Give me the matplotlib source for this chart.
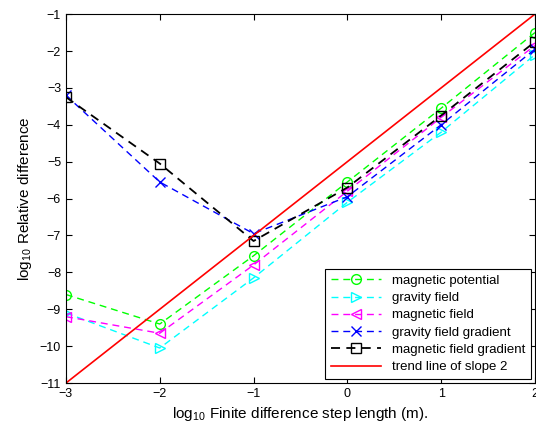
import matplotlib.pyplot as plt
import numpy as np

plt.rcParams['font.family'] = ['Liberation Sans', 'DejaVu Sans']
plt.rcParams['mathtext.fontset'] = 'custom'
plt.rcParams['mathtext.rm'] = 'Liberation Sans'
plt.rcParams['mathtext.it'] = 'Liberation Sans'
plt.rcParams['lines.dashed_pattern'] = (5, 3.5)

# log10 step length
step = [-3, -2, -1, 0, 1, 2]

# log10 relative difference per field
mag_potential = [-8.6, -9.4, -7.55, -5.55, -3.55, -1.5]
gravity_field = [-9.1, -10.05, -8.15, -6.1, -4.2, -2.1]
mag_field = [-9.2, -9.65, -7.8, -5.8, -3.8, -1.85]
gravity_gradient = [-3.2, -5.55, -6.95, -5.95, -4.0, -1.95]
mag_gradient = [-3.25, -5.05, -7.15, -5.7, -3.75, -1.75]

# trend line of slope 2
trend_x = [-3, 2]
trend_y = [-11, -1]

fig = plt.figure(figsize=(5.36, 4.28), dpi=100)
ax = fig.add_axes([0.123, 0.105, 0.875, 0.862])

ax.plot(step, mag_potential, '--o', color='#00ff00', mfc='none', ms=7, lw=1,
        label='magnetic potential')
ax.plot(step, gravity_field, '-->', color='#00ffff', mfc='none', ms=7, lw=1,
        label='gravity field')
ax.plot(step, mag_field, '--<', color='#ff00ff', mfc='none', ms=7, lw=1,
        label='magnetic field')
ax.plot(step, gravity_gradient, '--x', color='#0000ff', ms=7, lw=1,
        label='gravity field gradient')
ax.plot(step, mag_gradient, '--s', color='black', mfc='none', ms=7, lw=1.3,
        label='magnetic field gradient')
ax.plot(trend_x, trend_y, '-', color='red', lw=1.2, label='trend line of slope 2')

ax.set_xlim(-3, 2)
ax.set_ylim(-11, -1)
ax.set_xticks(range(-3, 3))
ax.set_yticks(range(-11, 0))
ax.tick_params(direction='in', top=True, right=True, labelsize=9, length=4)

ax.set_xlabel('log$_{10}$ Finite difference step length (m).', fontsize=11)
ax.set_ylabel('log$_{10}$ Relative difference', fontsize=11)

leg = ax.legend(loc='lower right', fontsize=9.5, fancybox=False, edgecolor='black',
                framealpha=1, borderaxespad=0.3, handlelength=3.8, labelspacing=0.38,
                borderpad=0.45)
leg.get_frame().set_linewidth(0.8)

plt.savefig('out.png', dpi=100)
